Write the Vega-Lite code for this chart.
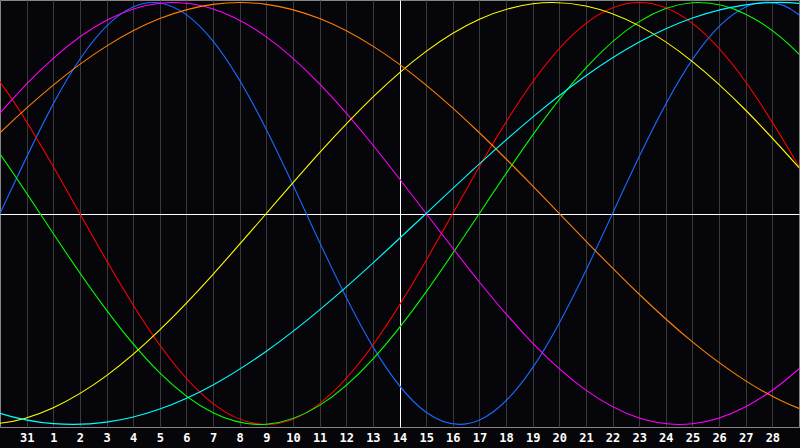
{
  "$schema": "https://vega.github.io/schema/vega-lite/v6.json",
  "width": 799,
  "height": 427,
  "autosize": {"type": "none"},
  "padding": {"left": 0, "top": 0, "right": 1, "bottom": 21},
  "background": "#060509",
  "config": {"view": {"stroke": "#858585", "strokeWidth": 1}},
  "data": {"values": [
    {"s":"physical","t":-2,"v":-0.5196},{"s":"physical","t":0,"v":0},{"s":"physical","t":2,"v":0.5196},{"s":"physical","t":4,"v":0.8879},{"s":"physical","t":6,"v":0.9977},{"s":"physical","t":8,"v":0.8170},{"s":"physical","t":10,"v":0.3984},{"s":"physical","t":12,"v":-0.1362},{"s":"physical","t":14,"v":-0.6311},{"s":"physical","t":16,"v":-0.9423},{"s":"physical","t":18,"v":-0.9791},{"s":"physical","t":20,"v":-0.7308},{"s":"physical","t":22,"v":-0.2698},{"s":"physical","t":24,"v":0.2698},{"s":"physical","t":26,"v":0.7308},{"s":"physical","t":28,"v":0.9791},{"s":"physical","t":30,"v":0.9423},{"s":"physical","t":32,"v":0.6311},
    {"s":"emotional","t":-2,"v":0.9010},{"s":"emotional","t":0,"v":0.6235},{"s":"emotional","t":2,"v":0.2225},{"s":"emotional","t":4,"v":-0.2225},{"s":"emotional","t":6,"v":-0.6235},{"s":"emotional","t":8,"v":-0.9010},{"s":"emotional","t":10,"v":-1},{"s":"emotional","t":12,"v":-0.9010},{"s":"emotional","t":14,"v":-0.6235},{"s":"emotional","t":16,"v":-0.2225},{"s":"emotional","t":18,"v":0.2225},{"s":"emotional","t":20,"v":0.6235},{"s":"emotional","t":22,"v":0.9010},{"s":"emotional","t":24,"v":1},{"s":"emotional","t":26,"v":0.9010},{"s":"emotional","t":28,"v":0.6235},{"s":"emotional","t":30,"v":0.2225},{"s":"emotional","t":32,"v":-0.2225},
    {"s":"intellectual","t":-2,"v":0.6182},{"s":"intellectual","t":0,"v":0.2817},{"s":"intellectual","t":2,"v":-0.0951},{"s":"intellectual","t":4,"v":-0.4582},{"s":"intellectual","t":6,"v":-0.7557},{"s":"intellectual","t":8,"v":-0.9450},{"s":"intellectual","t":10,"v":-0.9989},{"s":"intellectual","t":12,"v":-0.9096},{"s":"intellectual","t":14,"v":-0.6901},{"s":"intellectual","t":16,"v":-0.3717},{"s":"intellectual","t":18,"v":0},{"s":"intellectual","t":20,"v":0.3717},{"s":"intellectual","t":22,"v":0.6901},{"s":"intellectual","t":24,"v":0.9096},{"s":"intellectual","t":26,"v":0.9989},{"s":"intellectual","t":28,"v":0.9450},{"s":"intellectual","t":30,"v":0.7557},{"s":"intellectual","t":32,"v":0.4582},
    {"s":"intuitive","t":-2,"v":0.1646},{"s":"intuitive","t":0,"v":0.4759},{"s":"intuitive","t":2,"v":0.7357},{"s":"intuitive","t":4,"v":0.9158},{"s":"intuitive","t":6,"v":0.9966},{"s":"intuitive","t":8,"v":0.9694},{"s":"intuitive","t":10,"v":0.8372},{"s":"intuitive","t":12,"v":0.6142},{"s":"intuitive","t":14,"v":0.3247},{"s":"intuitive","t":16,"v":0},{"s":"intuitive","t":18,"v":-0.3247},{"s":"intuitive","t":20,"v":-0.6142},{"s":"intuitive","t":22,"v":-0.8372},{"s":"intuitive","t":24,"v":-0.9694},{"s":"intuitive","t":26,"v":-0.9966},{"s":"intuitive","t":28,"v":-0.9158},{"s":"intuitive","t":30,"v":-0.7357},{"s":"intuitive","t":32,"v":-0.4759},
    {"s":"aesthetic","t":-2,"v":-0.9834},{"s":"aesthetic","t":0,"v":-0.9940},{"s":"aesthetic","t":2,"v":-0.9204},{"s":"aesthetic","t":4,"v":-0.7686},{"s":"aesthetic","t":6,"v":-0.5517},{"s":"aesthetic","t":8,"v":-0.2881},{"s":"aesthetic","t":10,"v":0},{"s":"aesthetic","t":12,"v":0.2881},{"s":"aesthetic","t":14,"v":0.5517},{"s":"aesthetic","t":16,"v":0.7686},{"s":"aesthetic","t":18,"v":0.9204},{"s":"aesthetic","t":20,"v":0.9940},{"s":"aesthetic","t":22,"v":0.9834},{"s":"aesthetic","t":24,"v":0.8893},{"s":"aesthetic","t":26,"v":0.7199},{"s":"aesthetic","t":28,"v":0.4894},{"s":"aesthetic","t":30,"v":0.2174},{"s":"aesthetic","t":32,"v":-0.0730},
    {"s":"awareness","t":-2,"v":0.1305},{"s":"awareness","t":0,"v":0.3827},{"s":"awareness","t":2,"v":0.6088},{"s":"awareness","t":4,"v":0.7934},{"s":"awareness","t":6,"v":0.9239},{"s":"awareness","t":8,"v":0.9914},{"s":"awareness","t":10,"v":0.9914},{"s":"awareness","t":12,"v":0.9239},{"s":"awareness","t":14,"v":0.7934},{"s":"awareness","t":16,"v":0.6088},{"s":"awareness","t":18,"v":0.3827},{"s":"awareness","t":20,"v":0.1305},{"s":"awareness","t":22,"v":-0.1305},{"s":"awareness","t":24,"v":-0.3827},{"s":"awareness","t":26,"v":-0.6088},{"s":"awareness","t":28,"v":-0.7934},{"s":"awareness","t":30,"v":-0.9239},{"s":"awareness","t":32,"v":-0.9914},
    {"s":"spiritual","t":-2,"v":-0.8457},{"s":"spiritual","t":0,"v":-0.9473},{"s":"spiritual","t":2,"v":-0.9960},{"s":"spiritual","t":4,"v":-0.9890},{"s":"spiritual","t":6,"v":-0.9267},{"s":"spiritual","t":8,"v":-0.8126},{"s":"spiritual","t":10,"v":-0.6528},{"s":"spiritual","t":12,"v":-0.4566},{"s":"spiritual","t":14,"v":-0.2349},{"s":"spiritual","t":16,"v":0},{"s":"spiritual","t":18,"v":0.2349},{"s":"spiritual","t":20,"v":0.4566},{"s":"spiritual","t":22,"v":0.6528},{"s":"spiritual","t":24,"v":0.8126},{"s":"spiritual","t":26,"v":0.9267},{"s":"spiritual","t":28,"v":0.9890},{"s":"spiritual","t":30,"v":0.9960},{"s":"spiritual","t":32,"v":0.9473}
  ]},
  "mark": {"type": "line", "interpolate": "natural", "clip": true, "strokeWidth": 1.1},
  "encoding": {
    "x": {
      "field": "t", "type": "quantitative",
      "scale": {"domain": [0, 30], "nice": false, "zero": false},
      "axis": {
        "values": [1,2,3,4,5,6,7,8,9,10,11,12,13,14,15,16,17,18,19,20,21,22,23,24,25,26,27,28,29],
        "grid": true,
        "gridColor": {"condition": {"test": "datum.value === 15", "value": "#ffffff"}, "value": "#3a3a3a"},
        "gridWidth": 1,
        "ticks": false, "tickSize": 0, "domain": false, "title": null,
        "labelExpr": "datum.value == 1 ? '31' : '' + (datum.value - 1)",
        "labelColor": "#ffffff", "labelFont": "DejaVu Sans Mono", "labelFontWeight": "bold",
        "labelFontSize": 12, "labelPadding": 5, "labelOverlap": false, "labelFlush": false
      }
    },
    "y": {
      "field": "v", "type": "quantitative",
      "scale": {"domain": [-1.012, 1.012], "nice": false, "zero": false},
      "axis": {"values": [0], "grid": true, "gridColor": "#ffffff", "gridWidth": 1, "labels": false, "ticks": false, "domain": false, "title": null}
    },
    "color": {
      "field": "s", "type": "nominal", "legend": null,
      "scale": {
        "domain": ["physical","emotional","intellectual","intuitive","aesthetic","awareness","spiritual"],
        "range": ["#1a6aff","#ff0000","#00ff00","#ff00ff","#ffff00","#ff8000","#00ffff"]
      }
    }
  }
}
